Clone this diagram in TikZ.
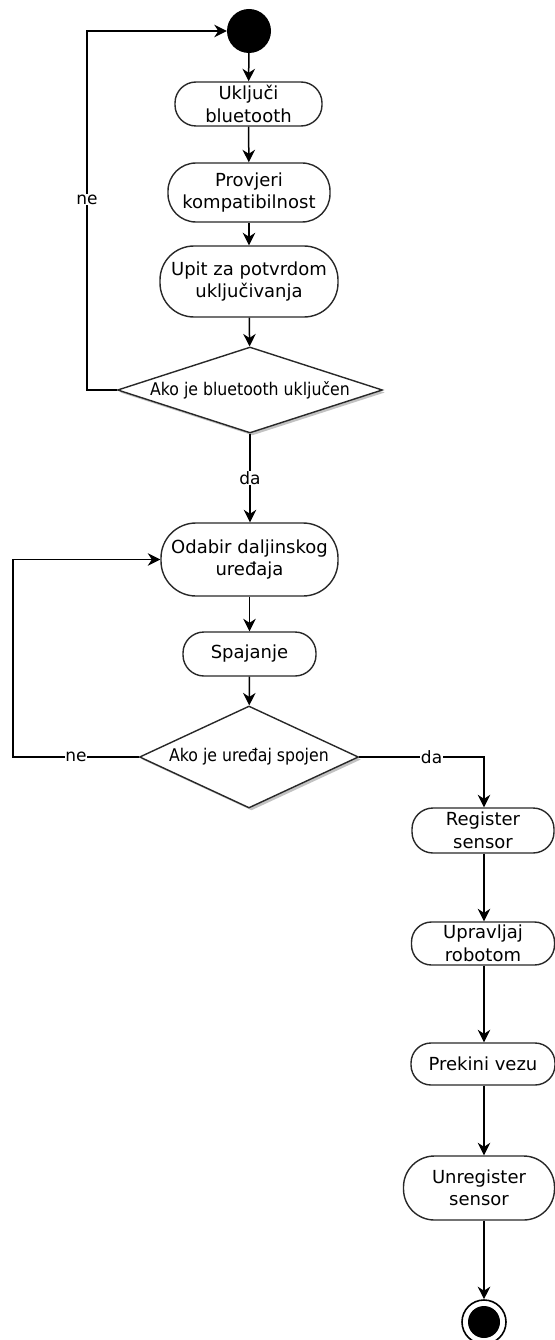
\documentclass[tikz,border=0pt]{standalone}
\usepackage{fontspec}
\setmainfont{DejaVu Sans}
\newfontfamily\condfont{DejaVu Sans Condensed}
\usetikzlibrary{arrows.meta,shapes.geometric,shadows}
\definecolor{linec}{RGB}{40,40,40}
\tikzset{
  arr/.style={draw=black, line width=1.5pt, -{Stealth[length=12.5pt,width=12.5pt,inset=4pt]}},
  act/.style={draw=linec, line width=1.4pt, fill=white, rounded corners=#1, align=center, inner sep=0pt,
              font=\fontsize{18}{22.5}\selectfont},
  dec/.style={diamond, draw=linec, line width=1.4pt, fill=white, inner sep=0pt, aspect=3,
              font=\condfont\fontsize{17.5}{19}\selectfont,
              drop shadow={shadow xshift=2.5pt, shadow yshift=-2.5pt, fill=black!40, opacity=0.6}},
  lbl/.style={fill=white, inner sep=0.5pt, font=\fontsize{17}{18}\selectfont},
}
\begin{document}
\begin{tikzpicture}[x=1pt,y=-1pt]
\useasboundingbox (0,0) rectangle (554,1340);
% start
\node[circle, fill=black, minimum size=44pt, inner sep=0pt] (start) at (249,31) {};
\node[act=21pt, minimum width=147pt, minimum height=44pt] (uk) at (248.5,104) {Uključi\\bluetooth};
\node[act=28pt, minimum width=162pt, minimum height=59pt] (prov) at (249,192.5) {Provjeri\\kompatibilnost};
\node[act=34pt, minimum width=178pt, minimum height=71pt] (upit) at (249,281.5) {Upit za potvrdom\\uključivanja};
\node[dec, minimum width=265pt, minimum height=86pt, aspect=3.1] (d1) at (250,390) {Ako je bluetooth uključen};
\node[act=35pt, minimum width=177pt, minimum height=73pt] (odab) at (249.5,559.5) {Odabir daljinskog\\uređaja};
\node[act=21pt, minimum width=133pt, minimum height=44pt] (spaj) at (249.5,654) {Spajanje};
\node[dec, minimum width=219pt, minimum height=102pt, aspect=2.15] (d2) at (249,757) {Ako je uređaj spojen};
\node[act=21pt, minimum width=142pt, minimum height=45pt] (reg) at (483,830.5) {Register\\sensor};
\node[act=20pt, minimum width=143pt, minimum height=43pt] (upr) at (483,943.5) {Upravljaj\\robotom};
\node[act=20pt, minimum width=144pt, minimum height=42pt] (prek) at (483,1064) {Prekini vezu};
\node[act=31pt, minimum width=151pt, minimum height=64pt] (unreg) at (479,1188) {Unregister\\sensor};
% end
\node[circle, draw=black, line width=1.6pt, fill=white, minimum size=44pt, inner sep=0pt] (end) at (484,1322) {};
\fill[black] (end.center) circle (16pt);
\coordinate (l1) at (87,0);
\coordinate (l2) at (13,0);
\coordinate (r2) at (484,0);
% connectors
\draw[arr] (start) -- (uk);
\draw[arr] (uk) -- (prov);
\draw[arr] (prov) -- (upit);
\draw[arr] (upit) -- (d1);
\draw[arr] (d1.west) -- (d1.west -| l1) -- node[lbl, pos=0.53] {ne} (l1 |- start.west) -- (start.west);
\draw[arr] (d1.south) -- node[lbl, pos=0.5] {da} (d1.south |- odab.north);
\draw[arr] (odab) -- (spaj);
\draw[arr] (spaj) -- (d2);
\draw[arr] (d2.west) -- node[lbl, pos=0.5] {ne} (d2.west -| l2) -- (l2 |- odab.west) -- (odab.west);
\draw[arr] (d2.east) -- node[lbl, pos=0.58] {da} (d2.east -| r2) -- (r2 |- reg.north);
\draw[arr] (reg.south -| r2) -- (r2 |- upr.north);
\draw[arr] (upr.south -| r2) -- (r2 |- prek.north);
\draw[arr] (prek.south -| r2) -- (r2 |- unreg.north);
\draw[arr] (unreg.south -| r2) -- (end.north);
\end{tikzpicture}
\end{document}
